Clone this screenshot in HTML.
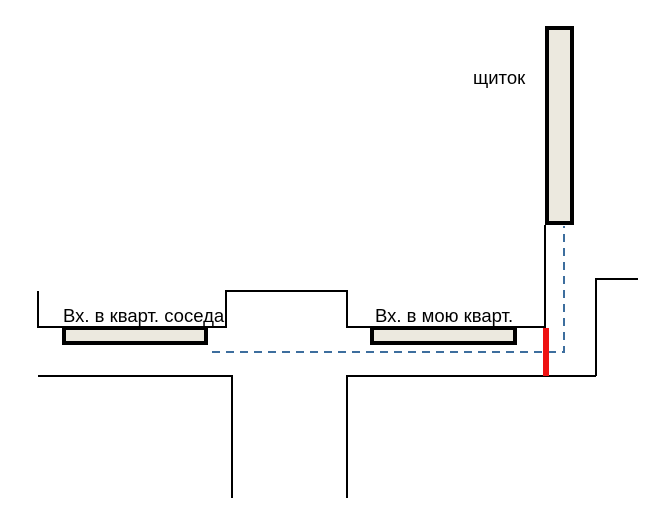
<!DOCTYPE html>
<html><head><meta charset="utf-8"><style>
html,body{margin:0;padding:0;background:#fff;}
svg{display:block;}
text{font-family:"Liberation Sans","Noto Sans CJK SC",sans-serif;font-size:18.5px;fill:#000;}
</style></head><body>
<svg width="661" height="505" viewBox="0 0 661 505" xmlns="http://www.w3.org/2000/svg">
<g fill="none" stroke="#000" stroke-width="2">
<polyline points="38,291 38,327 226,327 226,291 347,291 347,327 545,327 545,225"/>
<polyline points="596,376 596,279 638,279"/>
<polyline points="38,376 232,376 232,498"/>
<polyline points="347,498 347,376 596,376"/>
</g>
<rect x="547" y="28" width="25" height="195" fill="#ECE9DF" stroke="#000" stroke-width="4"/>
<rect x="64" y="328" width="142" height="15" fill="#ECE9DF" stroke="#000" stroke-width="4"/>
<rect x="372" y="328" width="143" height="15" fill="#ECE9DF" stroke="#000" stroke-width="4"/>
<polyline points="212,352 564,352 564,226" fill="none" stroke="#3D6E9E" stroke-width="2" stroke-dasharray="8,6"/>
<rect x="543" y="328" width="6" height="48" fill="#EE1111"/>
<text x="473" y="84">щиток</text>
<text x="63" y="322">Вх. в кварт. соседа</text>
<text x="375" y="322">Вх. в мою кварт.</text>
</svg>
</body></html>
